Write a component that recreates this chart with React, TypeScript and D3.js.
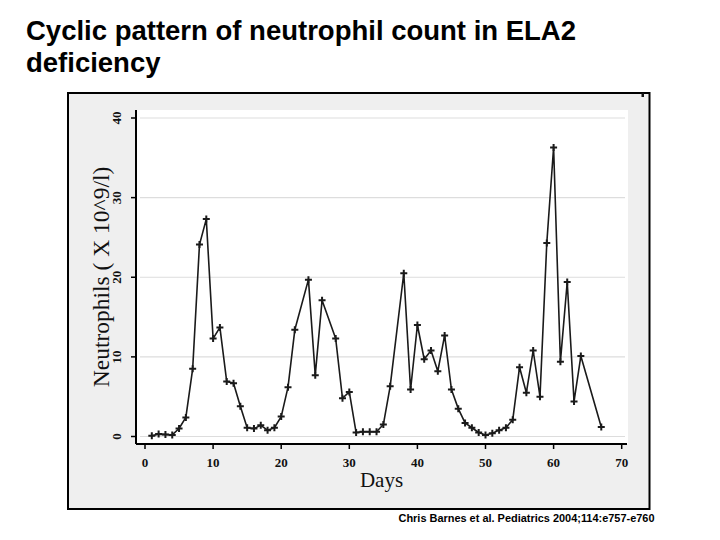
import React from "react";
import * as d3 from "d3";

const days = [1, 2, 3, 4, 5, 6, 7, 8, 9, 10, 11, 12, 13, 14, 15, 16, 17, 18, 19, 20, 21, 22, 24, 25, 26, 28, 29, 30, 31, 32, 33, 34, 35, 36, 38, 39, 40, 41, 42, 43, 44, 45, 46, 47, 48, 49, 50, 51, 52, 53, 54, 55, 56, 57, 58, 59, 60, 61, 62, 63, 64, 67];
const neutrophils = [0.1, 0.3, 0.25, 0.2, 1.0, 2.4, 8.5, 24.1, 27.3, 12.3, 13.7, 6.9, 6.7, 3.8, 1.1, 1.0, 1.4, 0.8, 1.1, 2.5, 6.2, 13.4, 19.7, 7.7, 17.1, 12.3, 4.8, 5.6, 0.5, 0.6, 0.6, 0.6, 1.5, 6.3, 20.5, 5.9, 14.0, 9.7, 10.8, 8.2, 12.7, 5.9, 3.5, 1.7, 1.1, 0.5, 0.2, 0.4, 0.8, 1.1, 2.1, 8.7, 5.5, 10.8, 5.0, 24.3, 36.3, 9.4, 19.4, 4.4, 10.1, 1.2];
const xTicks = [0, 10, 20, 30, 40, 50, 60, 70];
const yTicks = [0, 10, 20, 30, 40];

const titleLines = ["Cyclic pattern of neutrophil count in ELA2", "deficiency"];
const xLabel = "Days";
const yLabel = "Neutrophils ( X 10^9/l)";
const credit = "Chris Barnes et al. Pediatrics 2004;114:e757-e760";

export default function App() {
  const x = d3.scaleLinear().domain([0, 70]).range([145, 621.7]);
  const y = d3.scaleLinear().domain([0, 40]).range([436.5, 118]);
  const pts = days.map((d, i) => [d, neutrophils[i]] as [number, number]);
  const line = d3
    .line<[number, number]>()
    .x((d) => x(d[0]))
    .y((d) => y(d[1]));
  const plus = (cx: number, cy: number, r: number) =>
    `M${cx - r},${cy}H${cx + r}M${cx},${cy - r}V${cy + r}`;

  const axisX = 136;
  const axisY = 444;
  const serif = "'Liberation Serif', 'DejaVu Serif', serif";

  return (
    <svg
      width={720}
      height={540}
      style={{ position: "absolute", left: 0, top: 0, background: "#fff" }}
    >
      <rect x={0} y={0} width={720} height={540} fill="#ffffff" />
      {titleLines.map((t, i) => (
        <text
          key={i}
          x={26}
          y={40 + i * 32}
          fontFamily="'Liberation Sans', Arial, sans-serif"
          fontWeight="bold"
          fontSize={27.5}
          fill="#000"
        >
          {t}
        </text>
      ))}
      {/* frame */}
      <rect x={68} y={93} width={581.5} height={416} fill="#efefef" stroke="#000" strokeWidth={2} />
      <rect x={641.5} y={93} width={2.5} height={4} fill="#111" />
      {/* plot area */}
      <rect x={axisX} y={110} width={628 - axisX} height={axisY - 110} fill="#ffffff" />
      {yTicks.map((v) => (
        <line key={v} x1={140} x2={625} y1={y(v)} y2={y(v)} stroke="#dddddd" strokeWidth={1.2} />
      ))}
      {/* axes */}
      <line x1={axisX} x2={axisX} y1={110} y2={axisY} stroke="#000" strokeWidth={2} />
      <line x1={axisX} x2={627} y1={axisY} y2={axisY} stroke="#000" strokeWidth={2} />
      {xTicks.map((v) => (
        <g key={v}>
          <line x1={x(v)} x2={x(v)} y1={axisY} y2={axisY + 5} stroke="#000" strokeWidth={1.5} />
          <text
            x={x(v)}
            y={467}
            textAnchor="middle"
            fontFamily={serif}
            fontWeight="bold"
            fontSize={13}
            fill="#111"
          >
            {v}
          </text>
        </g>
      ))}
      {yTicks.map((v) => (
        <g key={v}>
          <line x1={axisX - 5} x2={axisX} y1={y(v)} y2={y(v)} stroke="#000" strokeWidth={1.5} />
          <text
            transform={`translate(${121},${y(v)}) rotate(-90)`}
            textAnchor="middle"
            fontFamily={serif}
            fontWeight="bold"
            fontSize={13}
            fill="#111"
          >
            {v}
          </text>
        </g>
      ))}
      <text
        x={381.5}
        y={487}
        textAnchor="middle"
        fontFamily={serif}
        fontSize={21}
        fill="#111"
      >
        {xLabel}
      </text>
      <text
        transform={`translate(${109},${277}) rotate(-90)`}
        textAnchor="middle"
        fontFamily={serif}
        fontSize={23.5}
        fill="#111"
      >
        {yLabel}
      </text>
      {/* data */}
      <path d={line(pts) || ""} fill="none" stroke="#1a1a1a" strokeWidth={1.6} strokeLinejoin="round" />
      {pts.map((p, i) => (
        <path key={i} d={plus(x(p[0]), y(p[1]), 3.5)} stroke="#1a1a1a" strokeWidth={2} fill="none" />
      ))}
      <text
        x={398.5}
        y={522}
        fontFamily="'Liberation Sans', Arial, sans-serif"
        fontWeight="bold"
        fontSize={10.5}
        textLength={256}
        lengthAdjust="spacingAndGlyphs"
        fill="#000"
      >
        {credit}
      </text>
    </svg>
  );
}
